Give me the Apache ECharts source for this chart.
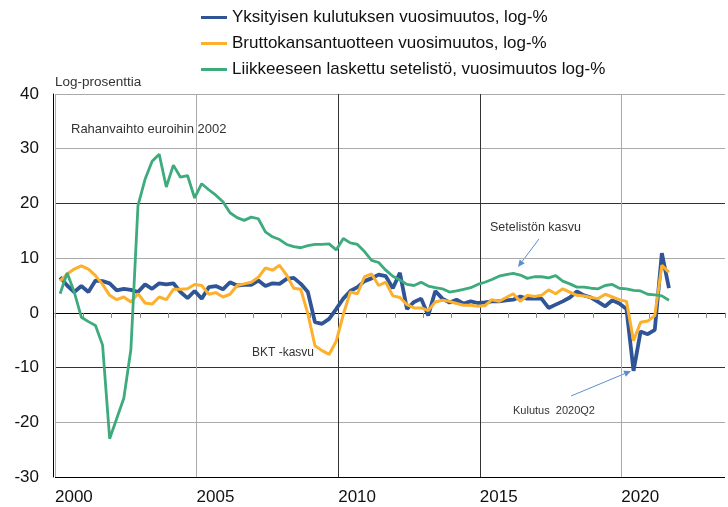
<!DOCTYPE html>
<html>
<head>
<meta charset="utf-8">
<script src="https://cdn.jsdelivr.net/npm/echarts@6/dist/echarts.min.js"></script>
<style>
  html, body { margin: 0; padding: 0; background: #fff; }
  #chart { width: 728px; height: 507px; }
</style>
</head>
<body>
<div id="chart"></div>
<script>
// quarters 2000Q1 .. 2021Q3
const quarters = []
for (let y = 2000; y <= 2021; y++) {
  for (let q = 1; q <= 4; q++) {
    if (y === 2021 && q > 3) break
    quarters.push(y + 'Q' + q)
  }
}

const consumption = [
  6.5, 5.0, 3.8, 4.9, 3.8, 5.9, 5.8, 5.4, 4.1, 4.4,
  4.2, 3.8, 5.2, 4.4, 5.4, 5.2, 5.4, 3.8, 2.7, 4.0,
  2.6, 4.7, 4.9, 4.3, 5.6, 5.0, 5.1, 5.1, 5.9, 4.9,
  5.4, 5.3, 6.2, 6.4, 5.3, 3.8, -1.7, -2.0, -1.1, 0.7,
  2.6, 4.0, 4.7, 5.8, 6.3, 7.0, 6.7, 4.5, 7.3, 0.7,
  2.0, 2.6, -0.5, 4.0, 2.6, 1.9, 2.4, 1.7, 2.1, 1.8,
  1.9, 2.1, 2.1, 2.3, 2.4, 3.0, 2.6, 2.6, 2.6, 0.9,
  1.5, 2.1, 2.8, 3.9, 3.2, 2.8, 2.0, 1.2, 2.3, 1.7,
  0.7, -10.6, -3.4, -3.9, -3.1, 10.9, 4.5
]

const gdp = [
  5.8, 7.1, 8.0, 8.6, 8.0, 6.8, 5.2, 3.2, 2.4, 2.9,
  2.0, 3.5, 1.8, 1.6, 2.9, 2.4, 4.3, 4.3, 4.4, 5.2,
  5.0, 3.4, 3.7, 2.9, 3.4, 5.0, 5.3, 5.6, 6.5, 8.2,
  7.8, 8.7, 6.9, 4.5, 4.3, -0.2, -6.0, -6.9, -7.6, -5.2,
  -0.3, 3.8, 3.5, 6.6, 7.1, 5.0, 5.6, 3.1, 2.8, 1.5,
  0.9, 0.9, 0.4, 2.0, 2.3, 2.1, 1.7, 1.4, 1.4, 1.2,
  1.3, 2.4, 2.1, 2.8, 3.5, 2.1, 3.2, 3.0, 3.2, 4.2,
  3.5, 4.4, 3.8, 3.2, 3.1, 2.8, 2.6, 3.4, 2.9, 2.4,
  2.1, -5.1, -1.7, -1.5, -0.5, 8.7, 7.4
]

const banknotes = [
  3.5, 7.3, 3.8, -0.8, -1.6, -2.3, -5.9, -23.0, -19.3, -15.6,
  -6.7, 19.6, 24.4, 27.7, 29.0, 23.0, 27.0, 24.8, 25.1, 21.0,
  23.6, 22.5, 21.5, 20.3, 18.3, 17.4, 16.9, 17.5, 17.2, 14.8,
  13.9, 13.4, 12.5, 12.1, 11.9, 12.3, 12.5, 12.5, 12.6, 11.5,
  13.6, 12.8, 12.5, 11.2, 9.6, 9.2, 7.8, 6.7, 6.0, 5.2,
  5.0, 5.6, 4.9, 4.6, 4.4, 3.8, 4.0, 4.3, 4.6, 5.2,
  5.6, 6.1, 6.7, 7.0, 7.2, 6.9, 6.3, 6.6, 6.6, 6.4,
  6.8, 5.8, 5.3, 4.7, 4.7, 4.5, 4.4, 5.0, 5.2, 4.5,
  4.4, 4.1, 4.0, 3.4, 3.3, 3.1, 2.3
]

const yTicks = [-30, -20, -10, 0, 10, 20, 30, 40]
const seriesNames = [
  'Yksityisen kulutuksen vuosimuutos, log-%',
  'Bruttokansantuotteen vuosimuutos, log-%',
  'Liikkeeseen laskettu setelistö, vuosimuutos log-%'
]

// quarter label -> position on the year axis
function toX(label) {
  const y = parseInt(label.slice(0, 4))
  const q = parseInt(label.slice(5))
  return y + (q - 1) / 4 + 0.18
}
function pairs(values) {
  return values.map((v, i) => [toX(quarters[i]), v])
}

// vertical grid only every 5th year
const xMin = 2000
const xMax = 2023.66
const vLineColors = []
for (let y = xMin; y <= 2023; y++) {
  if (y % 5 !== 0) vLineColors.push('rgba(0,0,0,0)')
  else if (y === 2010 || y === 2015) vLineColors.push('#333')
  else vLineColors.push('#aaa')
}
vLineColors.push('rgba(0,0,0,0)')

function arrow(x1, y1, x2, y2, color) {
  const a = Math.atan2(y2 - y1, x2 - x1)
  const len = 7, w = 3.2
  const bx = x2 - len * Math.cos(a), by = y2 - len * Math.sin(a)
  const px = -Math.sin(a) * w, py = Math.cos(a) * w
  return [
    { type: 'line', shape: { x1: x1, y1: y1, x2: bx, y2: by }, style: { stroke: color, lineWidth: 1 } },
    { type: 'polygon', shape: { points: [[x2, y2], [bx + px, by + py], [bx - px, by - py]] }, style: { fill: color } }
  ]
}

const chart = echarts.init(document.getElementById('chart'), null, { renderer: 'canvas' })
const font = 'Liberation Sans, Arial, sans-serif'
const noteColor = '#333'
const arrowColor = '#5b8fd0'

chart.setOption({
  animation: false,
  textStyle: { fontFamily: font },
  grid: { left: 55, right: 0, top: 94, bottom: 30 },
  legend: {
    orient: 'vertical',
    left: 201,
    top: 8,
    padding: 0,
    itemWidth: 26,
    itemHeight: 3,
    itemGap: 7,
    icon: 'rect',
    textStyle: { fontSize: 17, color: '#111', fontFamily: font, lineHeight: 19 },
    data: seriesNames
  },
  xAxis: {
    type: 'value',
    min: xMin,
    max: xMax,
    interval: 1,
    axisLine: { show: true, lineStyle: { color: '#000', width: 1 } },
    axisTick: { show: true, length: 5, lineStyle: { color: '#888' } },
    axisLabel: {
      fontSize: 17,
      color: '#111',
      margin: 12,
      align: 'left',
      formatter: v => (v % 5 === 0 ? String(v) : '')
    },
    splitLine: { show: true, lineStyle: { color: vLineColors, width: 1 } }
  },
  yAxis: {
    type: 'value',
    min: yTicks[0],
    max: yTicks[yTicks.length - 1],
    interval: 10,
    offset: 2,
    axisLine: { show: true, lineStyle: { color: '#000', width: 1 } },
    axisTick: { show: false },
    axisLabel: { fontSize: 17, color: '#111', margin: 14 },
    splitLine: {
      show: true,
      lineStyle: { color: ['#000', '#aaa', '#333', '#aaa', '#aaa', '#333', '#aaa', '#aaa'], width: 1 }
    }
  },
  series: [
    {
      name: seriesNames[0],
      type: 'line',
      data: pairs(consumption),
      showSymbol: false,
      color: '#2f5597',
      lineStyle: { width: 3.8, color: '#2f5597' }
    },
    {
      name: seriesNames[1],
      type: 'line',
      data: pairs(gdp),
      showSymbol: false,
      color: '#fcb02c',
      lineStyle: { width: 3, color: '#fcb02c' }
    },
    {
      name: seriesNames[2],
      type: 'line',
      data: pairs(banknotes),
      showSymbol: false,
      color: '#3dab7c',
      lineStyle: { width: 2.8, color: '#3dab7c' }
    }
  ],
  graphic: [
    { type: 'text', left: 55, top: 75, style: { text: 'Log-prosenttia', font: '13.5px ' + font, fill: '#333' } },
    { type: 'text', left: 71, top: 123, style: { text: 'Rahanvaihto euroihin 2002', font: '13px ' + font, fill: noteColor } },
    { type: 'text', left: 252, top: 347, style: { text: 'BKT -kasvu', font: '12px ' + font, fill: noteColor } },
    { type: 'text', left: 490, top: 221, style: { text: 'Setelistön kasvu', font: '12.5px ' + font, fill: noteColor } },
    { type: 'text', left: 513, top: 405, style: { text: 'Kulutus  2020Q2', font: '11px ' + font, fill: noteColor } },
    ...arrow(539, 239, 518, 267, arrowColor),
    ...arrow(571, 396, 631, 371, arrowColor)
  ]
})
</script>
</body>
</html>
